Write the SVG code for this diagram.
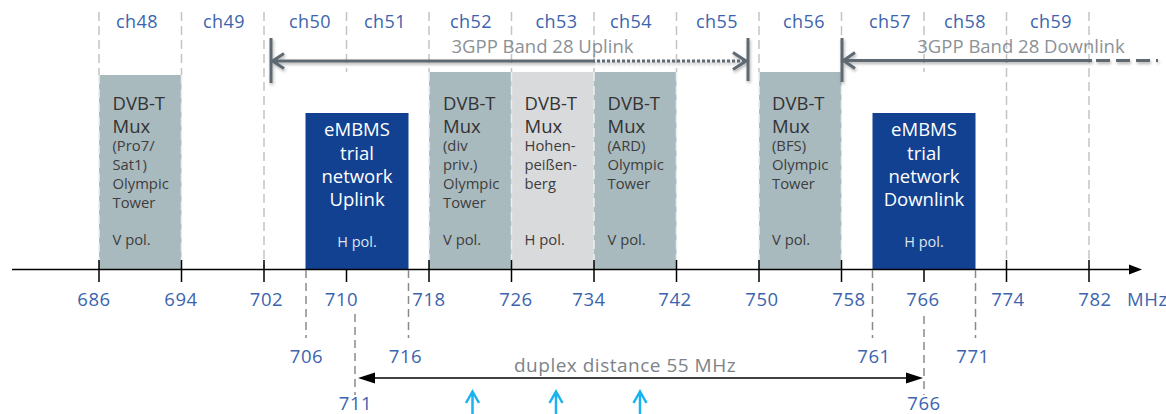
<svg xmlns="http://www.w3.org/2000/svg" width="1166" height="414" viewBox="0 0 1166 414">
<defs>
<style>
text{font-family:"Open Sans","Noto Sans","DejaVu Sans",sans-serif}
.grid{stroke:#c4c4c4;stroke-width:1.5;stroke-dasharray:9 5;fill:none}
.gridl{stroke:#eceff0;stroke-width:1.5;stroke-dasharray:9 5;fill:none}
.tick{stroke:#000;stroke-width:1.5;fill:none}
.mark{stroke:#8a8a8a;stroke-width:1.5;stroke-dasharray:8 5;fill:none}
.grey{fill:#a9babf}
.lgrey{fill:#d9dadc}
.blue{fill:#124191}
.ch{font-size:18px;fill:#3c64ae;text-anchor:middle;letter-spacing:0.4px}
.ax{font-size:18.5px;fill:#3c64ae;text-anchor:middle;letter-spacing:0.6px}
.big{font-size:18.5px;fill:#333333}
.sm{font-size:14.8px;fill:#3d3d3d}
.wbig{font-size:18.5px;fill:#ffffff;text-anchor:middle}
.wsm{font-size:14.5px;fill:#dfe5ef;text-anchor:middle}
.band{stroke:#5e6972;stroke-width:3;fill:none;stroke-linejoin:round}
.bandtxt{font-size:18.5px;fill:#8c9196;text-anchor:middle}
.dup{font-size:19px;fill:#7d8388;letter-spacing:0.5px}
.cyan{stroke:#1ab3ef;stroke-width:2.5;fill:none}
</style>
<filter id="sh" x="-5%" y="-30%" width="110%" height="180%">
<feDropShadow dx="1" dy="2" stdDeviation="1.5" flood-color="#000" flood-opacity="0.3"/>
</filter>
</defs>
<rect width="1166" height="414" fill="#ffffff"/>

<g id="grid-top">
<path class="grid" d="M99 12V75M181.5 12V75M264 12V269M346.5 12V72M429 12V72M511.5 12V72M594 12V72M676.5 12V72M759 12V72M841.5 12V72M924 12V72M1006.5 12V262M1089 12V262"/>
</g>

<g id="channel-labels">
<text class="ch" x="137" y="28">ch48</text>
<text class="ch" x="224" y="28">ch49</text>
<text class="ch" x="310" y="28">ch50</text>
<text class="ch" x="385" y="28">ch51</text>
<text class="ch" x="471" y="28">ch52</text>
<text class="ch" x="556.5" y="28">ch53</text>
<text class="ch" x="631" y="28">ch54</text>
<text class="ch" x="717" y="28">ch55</text>
<text class="ch" x="804" y="28">ch56</text>
<text class="ch" x="890" y="28">ch57</text>
<text class="ch" x="965" y="28">ch58</text>
<text class="ch" x="1051" y="28">ch59</text>
</g>

<g id="ch48-block">
<rect class="grey" x="99" y="75" width="82.5" height="194.5"/>
<text class="big" x="112.5" y="110">DVB-T</text>
<text class="big" x="112.5" y="133">Mux</text>
<text class="sm" x="112.5" y="151">(Pro7/</text>
<text class="sm" x="112.5" y="170">Sat1)</text>
<text class="sm" x="112.5" y="189">Olympic</text>
<text class="sm" x="112.5" y="208">Tower</text>
<text class="sm" x="112.5" y="245">V pol.</text>
</g>

<g id="embms-uplink">
<rect class="blue" x="305.5" y="113" width="103" height="156.5"/>
<text class="wbig" x="357" y="136">eMBMS</text>
<text class="wbig" x="357" y="159.5">trial</text>
<text class="wbig" x="357" y="182.5">network</text>
<text class="wbig" x="357" y="206">Uplink</text>
<text class="wsm" x="357" y="246.5">H pol.</text>
</g>

<g id="ch52-block">
<rect class="grey" x="429" y="72" width="82.5" height="197.5"/>
<text class="big" x="443" y="110">DVB-T</text>
<text class="big" x="443" y="133">Mux</text>
<text class="sm" x="443" y="151">(div</text>
<text class="sm" x="443" y="170">priv.)</text>
<text class="sm" x="443" y="189">Olympic</text>
<text class="sm" x="443" y="208">Tower</text>
<text class="sm" x="443" y="245">V pol.</text>
</g>

<g id="ch53-block">
<rect class="lgrey" x="511.5" y="72" width="82.5" height="197.5"/>
<text class="big" x="524.5" y="110">DVB-T</text>
<text class="big" x="524.5" y="133">Mux</text>
<text class="sm" x="524.5" y="151">Hohen-</text>
<text class="sm" x="524.5" y="170">peißen-</text>
<text class="sm" x="524.5" y="189">berg</text>
<text class="sm" x="524.5" y="245">H pol.</text>
</g>

<g id="ch54-block">
<rect class="grey" x="594" y="72" width="82.5" height="197.5"/>
<text class="big" x="607.5" y="110">DVB-T</text>
<text class="big" x="607.5" y="133">Mux</text>
<text class="sm" x="607.5" y="151">(ARD)</text>
<text class="sm" x="607.5" y="170">Olympic</text>
<text class="sm" x="607.5" y="189">Tower</text>
<text class="sm" x="607.5" y="245">V pol.</text>
</g>

<g id="ch56-block">
<rect class="grey" x="759" y="72" width="82.5" height="197.5"/>
<text class="big" x="772" y="110">DVB-T</text>
<text class="big" x="772" y="133">Mux</text>
<text class="sm" x="772" y="151">(BFS)</text>
<text class="sm" x="772" y="170">Olympic</text>
<text class="sm" x="772" y="189">Tower</text>
<text class="sm" x="772" y="245">V pol.</text>
</g>

<g id="embms-downlink">
<rect class="blue" x="872.5" y="113" width="103" height="156.5"/>
<text class="wbig" x="924" y="136">eMBMS</text>
<text class="wbig" x="924" y="159.5">trial</text>
<text class="wbig" x="924" y="182.5">network</text>
<text class="wbig" x="924" y="206">Downlink</text>
<text class="wsm" x="924" y="246.5">H pol.</text>
</g>

<g id="grid-on-blocks">
<path class="gridl" d="M99 75V262M181.5 75V262M429 72V262M511.5 72V262M594 72V262M676.5 72V262M759 72V262M841.5 72V262"/>
</g>

<g id="axis">
<path class="tick" d="M12 269.5H1131"/>
<polygon points="1129,264.5 1142,269.5 1129,274.5" fill="#000"/>
<path class="tick" d="M99 260V282M181.5 260V282M264 260V282M346.5 270V282M429 260V282M511.5 260V282M594 260V282M676.5 260V282M759 260V282M841.5 260V282M924 270V282M1006.5 260V282M1089 260V282"/>
<text class="ax" x="94" y="305.5">686</text>
<text class="ax" x="181" y="305.5">694</text>
<text class="ax" x="266.5" y="305.5">702</text>
<text class="ax" x="341.5" y="305.5">710</text>
<text class="ax" x="429" y="305.5">718</text>
<text class="ax" x="516" y="305.5">726</text>
<text class="ax" x="589" y="305.5">734</text>
<text class="ax" x="675" y="305.5">742</text>
<text class="ax" x="762" y="305.5">750</text>
<text class="ax" x="849" y="305.5">758</text>
<text class="ax" x="923" y="305.5">766</text>
<text class="ax" x="1008" y="305.5">774</text>
<text class="ax" x="1095" y="305.5">782</text>
<text class="ax" x="1127" y="305.5" style="text-anchor:start">MHz</text>
</g>

<g id="markers">
<path class="mark" d="M306 270V338M408.5 270V338M872.5 270V338M975.5 270V338M355 314V395M924 316V395"/>
<text class="ax" x="306.5" y="363">706</text>
<text class="ax" x="405.5" y="363">716</text>
<text class="ax" x="874" y="363">761</text>
<text class="ax" x="973" y="363">771</text>
<text class="ax" x="355.5" y="410">711</text>
<text class="ax" x="924" y="409.5">766</text>
</g>

<g id="connectors">
<g id="band28-uplink" filter="url(#sh)">
<path class="band" d="M271 38V83M272 61H592M284 53.5L272.5 61L284 68.5"/>
<path class="band" d="M592 61H744" stroke-dasharray="3 2"/>
<path class="band" d="M733 52.5L746 61L733 69.5M748 38V81"/>
</g>
<g id="band28-downlink" filter="url(#sh)">
<path class="band" d="M842 38V82M843 60.5H1092M855 52.5L843.5 60.5L855 68.5"/>
<path class="band" d="M1096 60.5H1158" stroke-dasharray="14 6"/>
</g>
<g id="duplex">
<path class="tick" d="M372 378H909"/>
<polygon points="358,378 375,372.5 375,383.5" fill="#000"/>
<polygon points="923,378 906,372.5 906,383.5" fill="#000"/>
</g>
<g id="cyan-arrows">
<path class="cyan" d="M472.5 414V393M466 403L472.5 391.5L479 403"/>
<path class="cyan" d="M556 414V393M549.5 403L556 391.5L562.5 403"/>
<path class="cyan" d="M640 414V393M633.5 403L640 391.5L646.5 403"/>
</g>
</g>

<g id="labels">
<text class="bandtxt" x="542.5" y="53">3GPP Band 28 Uplink</text>
<text class="bandtxt" x="1021" y="53">3GPP Band 28 Downlink</text>
<text class="dup" x="514" y="372">duplex distance 55 MHz</text>
</g>
</svg>
